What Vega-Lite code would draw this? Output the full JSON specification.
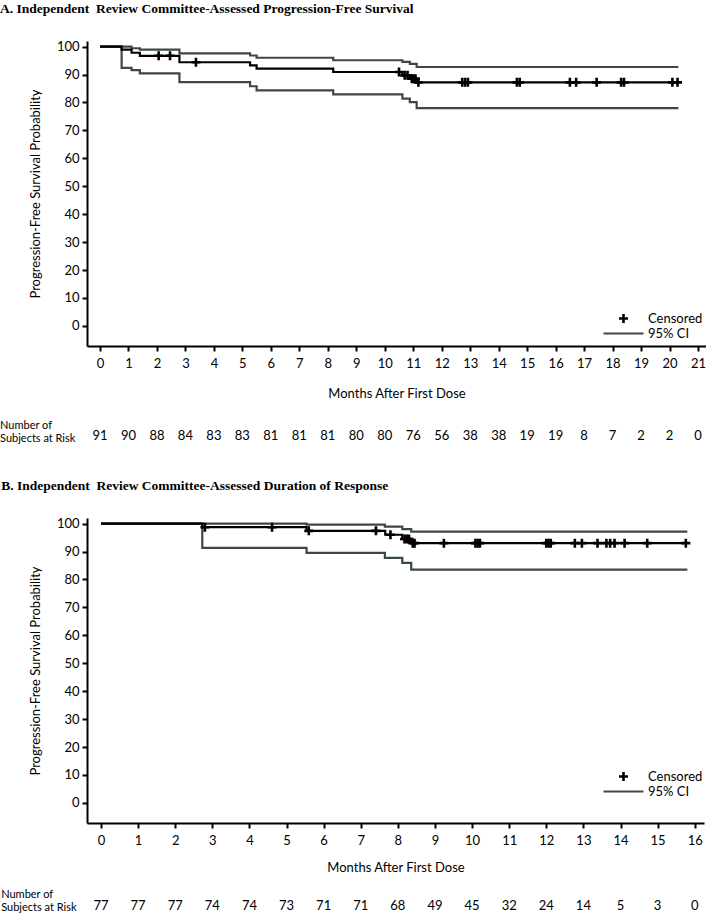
{
  "$schema": "https://vega.github.io/schema/vega-lite/v6.json",
  "padding": {"left": 0, "top": 2, "right": 0, "bottom": 0},
  "autosize": {"type": "pad"},
  "spacing": 35,
  "config": {
    "view": {"stroke": null},
    "font": "Lato",
    "axis": {
      "grid": false, "domainColor": "black", "domainWidth": 2,
      "tickColor": "black", "tickWidth": 2, "tickSize": 5,
      "labelFont": "Lato", "labelFontSize": 13, "labelColor": "black",
      "titleFont": "Lato", "titleFontSize": 13, "titleFontWeight": "normal", "titleColor": "black",
      "labelOverlap": false, "labelFlush": false
    },
    "legend": {"labelFont": "Lato", "labelFontSize": 13, "labelColor": "black", "padding": 0, "title": null},
    "title": {"font": "Liberation Serif", "fontSize": 13.5, "fontWeight": "bold", "anchor": "start", "frame": "bounds", "color": "black", "offset": 25}
  },
  "resolve": {"scale": {"color": "independent", "shape": "independent"}, "legend": {"color": "independent", "shape": "independent"}},
  "datasets": {
    "ciA": [
      {"bound": "Upper", "t": 0, "v": 100}, {"bound": "Upper", "t": 1.11, "v": 99.4}, {"bound": "Upper", "t": 1.4, "v": 98.9},
      {"bound": "Upper", "t": 2.79, "v": 97.6}, {"bound": "Upper", "t": 5.27, "v": 96.8}, {"bound": "Upper", "t": 5.5, "v": 96.0},
      {"bound": "Upper", "t": 8.19, "v": 95.1}, {"bound": "Upper", "t": 10.62, "v": 94.5}, {"bound": "Upper", "t": 10.88, "v": 93.8},
      {"bound": "Upper", "t": 11.12, "v": 92.7}, {"bound": "Upper", "t": 20.31, "v": 92.7},
      {"bound": "Lower", "t": 0, "v": 100}, {"bound": "Lower", "t": 0.76, "v": 92.4}, {"bound": "Lower", "t": 1.11, "v": 91.6},
      {"bound": "Lower", "t": 1.4, "v": 90.4}, {"bound": "Lower", "t": 2.79, "v": 87.25}, {"bound": "Lower", "t": 5.27, "v": 85.8},
      {"bound": "Lower", "t": 5.5, "v": 84.3}, {"bound": "Lower", "t": 8.19, "v": 82.9}, {"bound": "Lower", "t": 10.62, "v": 81.4},
      {"bound": "Lower", "t": 10.88, "v": 80.1}, {"bound": "Lower", "t": 11.12, "v": 78.0}, {"bound": "Lower", "t": 20.31, "v": 78.0}
    ],
    "kmA": [
      {"t": 0, "v": 100}, {"t": 0.76, "v": 98.9}, {"t": 1.11, "v": 97.8}, {"t": 1.4, "v": 96.7}, {"t": 2.79, "v": 94.4},
      {"t": 5.27, "v": 93.3}, {"t": 5.5, "v": 92.1}, {"t": 8.19, "v": 90.9}, {"t": 10.62, "v": 89.7}, {"t": 10.88, "v": 88.5},
      {"t": 11.12, "v": 87.2}, {"t": 20.3, "v": 87.2}
    ],
    "censA": [
      {"t": 2.06, "v": 96.7}, {"t": 2.46, "v": 96.7}, {"t": 3.37, "v": 94.4}, {"t": 10.5, "v": 90.9}, {"t": 10.7, "v": 89.7},
      {"t": 10.8, "v": 89.7}, {"t": 10.95, "v": 88.5}, {"t": 11.02, "v": 88.5}, {"t": 11.08, "v": 88.5}, {"t": 11.18, "v": 87.2},
      {"t": 12.72, "v": 87.2}, {"t": 12.82, "v": 87.2}, {"t": 12.92, "v": 87.2}, {"t": 14.64, "v": 87.2}, {"t": 14.74, "v": 87.2},
      {"t": 16.5, "v": 87.2}, {"t": 16.72, "v": 87.2}, {"t": 17.44, "v": 87.2}, {"t": 18.3, "v": 87.2}, {"t": 18.4, "v": 87.2},
      {"t": 20.1, "v": 87.2}, {"t": 20.28, "v": 87.2}
    ],
    "riskA": [
      {"t": 0, "n": 91}, {"t": 1, "n": 90}, {"t": 2, "n": 88}, {"t": 3, "n": 84}, {"t": 4, "n": 83}, {"t": 5, "n": 83},
      {"t": 6, "n": 81}, {"t": 7, "n": 81}, {"t": 8, "n": 81}, {"t": 9, "n": 80}, {"t": 10, "n": 80}, {"t": 11, "n": 76},
      {"t": 12, "n": 56}, {"t": 13, "n": 38}, {"t": 14, "n": 38}, {"t": 15, "n": 19}, {"t": 16, "n": 19}, {"t": 17, "n": 8},
      {"t": 18, "n": 7}, {"t": 19, "n": 2}, {"t": 20, "n": 2}, {"t": 21, "n": 0}
    ],
    "ciB": [
      {"bound": "Upper", "t": 0, "v": 100}, {"bound": "Upper", "t": 5.54, "v": 99.6}, {"bound": "Upper", "t": 7.65, "v": 98.9},
      {"bound": "Upper", "t": 8.12, "v": 98.0}, {"bound": "Upper", "t": 8.36, "v": 97.1}, {"bound": "Upper", "t": 15.8, "v": 97.1},
      {"bound": "Lower", "t": 0, "v": 100}, {"bound": "Lower", "t": 2.73, "v": 91.3}, {"bound": "Lower", "t": 5.54, "v": 89.5},
      {"bound": "Lower", "t": 7.65, "v": 87.7}, {"bound": "Lower", "t": 8.12, "v": 85.9}, {"bound": "Lower", "t": 8.36, "v": 83.5},
      {"bound": "Lower", "t": 15.8, "v": 83.5}
    ],
    "kmB": [
      {"t": 0, "v": 100}, {"t": 2.73, "v": 98.7}, {"t": 5.54, "v": 97.4}, {"t": 7.66, "v": 96.0}, {"t": 8.12, "v": 94.5},
      {"t": 8.36, "v": 93.0}, {"t": 15.76, "v": 93.0}
    ],
    "censB": [
      {"t": 2.8, "v": 98.7}, {"t": 4.61, "v": 98.7}, {"t": 5.6, "v": 97.4}, {"t": 7.41, "v": 97.4}, {"t": 7.8, "v": 96.0},
      {"t": 8.18, "v": 94.5}, {"t": 8.24, "v": 94.5}, {"t": 8.3, "v": 94.5}, {"t": 8.4, "v": 93.0}, {"t": 8.45, "v": 93.0},
      {"t": 9.24, "v": 93.0}, {"t": 10.09, "v": 93.0}, {"t": 10.15, "v": 93.0}, {"t": 10.21, "v": 93.0}, {"t": 12.0, "v": 93.0},
      {"t": 12.06, "v": 93.0}, {"t": 12.12, "v": 93.0}, {"t": 12.77, "v": 93.0}, {"t": 12.96, "v": 93.0}, {"t": 13.38, "v": 93.0},
      {"t": 13.62, "v": 93.0}, {"t": 13.72, "v": 93.0}, {"t": 13.84, "v": 93.0}, {"t": 14.11, "v": 93.0}, {"t": 14.72, "v": 93.0},
      {"t": 15.76, "v": 93.0}
    ],
    "riskB": [
      {"t": 0, "n": 77}, {"t": 1, "n": 77}, {"t": 2, "n": 77}, {"t": 3, "n": 74}, {"t": 4, "n": 74}, {"t": 5, "n": 73},
      {"t": 6, "n": 71}, {"t": 7, "n": 71}, {"t": 8, "n": 68}, {"t": 9, "n": 49}, {"t": 10, "n": 45}, {"t": 11, "n": 32},
      {"t": 12, "n": 24}, {"t": 13, "n": 14}, {"t": 14, "n": 5}, {"t": 15, "n": 3}, {"t": 16, "n": 0}
    ],
    "riskLabel": [{"label": "Number of\nSubjects at Risk"}]
  },
  "vconcat": [
    {
      "title": {"text": "A. Independent\u00a0 Review Committee-Assessed Progression-Free Survival"},
      "width": 619,
      "height": 305,
      "layer": [
        {
          "data": {"name": "ciA"},
          "mark": {"type": "line", "interpolate": "step-after", "strokeWidth": 2.2},
          "encoding": {
            "x": {"field": "t", "type": "quantitative", "title": "Months After First Dose", "scale": {"domain": [-0.456, 21.28], "nice": false, "zero": false},
                  "axis": {"values": [0,1,2,3,4,5,6,7,8,9,10,11,12,13,14,15,16,17,18,19,20,21], "labelPadding": 6, "titlePadding": 17}},
            "y": {"field": "v", "type": "quantitative", "title": "Progression-Free Survival Probability", "scale": {"domain": [-7.2, 102], "nice": false, "zero": false},
                  "axis": {"values": [0,10,20,30,40,50,60,70,80,90,100], "labelPadding": 3, "titlePadding": 14}},
            "detail": {"field": "bound", "type": "nominal"},
            "color": {"datum": "95% CI", "type": "nominal", "scale": {"range": ["#3b4845"]},
                      "legend": {"orient": "none", "legendX": 515, "legendY": 271, "symbolType": "stroke", "symbolSize": 1600, "symbolStrokeWidth": 2.2, "labelOffset": 3}}
          }
        },
        {
          "data": {"name": "kmA"},
          "mark": {"type": "line", "interpolate": "step-after", "strokeWidth": 2.2, "color": "black"},
          "encoding": {
            "x": {"field": "t", "type": "quantitative", "title": "Months After First Dose",
                  "axis": {"values": [0,1,2,3,4,5,6,7,8,9,10,11,12,13,14,15,16,17,18,19,20,21], "labelPadding": 6, "titlePadding": 17}},
            "y": {"field": "v", "type": "quantitative", "title": "Progression-Free Survival Probability",
                  "axis": {"values": [0,10,20,30,40,50,60,70,80,90,100], "labelPadding": 3, "titlePadding": 14}}
          }
        },
        {
          "data": {"name": "censA"},
          "mark": {"type": "point", "filled": false, "strokeWidth": 2.6, "size": 81, "color": "black", "opacity": 1},
          "encoding": {
            "x": {"field": "t", "type": "quantitative", "title": "Months After First Dose",
                  "axis": {"values": [0,1,2,3,4,5,6,7,8,9,10,11,12,13,14,15,16,17,18,19,20,21], "labelPadding": 6, "titlePadding": 17}},
            "y": {"field": "v", "type": "quantitative", "title": "Progression-Free Survival Probability",
                  "axis": {"values": [0,10,20,30,40,50,60,70,80,90,100], "labelPadding": 3, "titlePadding": 14}},
            "shape": {"datum": "Censored", "type": "nominal", "scale": {"range": ["M-1,0H1M0,-1V1"]},
                      "legend": {"orient": "none", "legendX": 530, "legendY": 271, "symbolSize": 81, "symbolStrokeWidth": 2.6, "symbolStrokeColor": "black", "symbolFillColor": "transparent", "labelOffset": 18}}
          }
        },
        {
          "data": {"name": "riskA"},
          "mark": {"type": "text", "font": "Lato", "fontSize": 13, "baseline": "bottom", "color": "black"},
          "encoding": {
            "x": {"field": "t", "type": "quantitative", "title": "Months After First Dose",
                  "axis": {"values": [0,1,2,3,4,5,6,7,8,9,10,11,12,13,14,15,16,17,18,19,20,21], "labelPadding": 6, "titlePadding": 17}},
            "y": {"datum": -42.1, "type": "quantitative", "title": "Progression-Free Survival Probability",
                  "axis": {"values": [0,10,20,30,40,50,60,70,80,90,100], "labelPadding": 3, "titlePadding": 14}},
            "text": {"field": "n", "type": "nominal"}
          }
        },
        {
          "data": {"name": "riskLabel"},
          "mark": {"type": "text", "font": "Lato", "fontSize": 11, "baseline": "bottom", "align": "left", "lineBreak": "\n", "lineHeight": 13, "color": "black"},
          "encoding": {
            "x": {"datum": -3.51, "type": "quantitative", "title": "Months After First Dose",
                  "axis": {"values": [0,1,2,3,4,5,6,7,8,9,10,11,12,13,14,15,16,17,18,19,20,21], "labelPadding": 6, "titlePadding": 17}},
            "y": {"datum": -37.5, "type": "quantitative", "title": "Progression-Free Survival Probability",
                  "axis": {"values": [0,10,20,30,40,50,60,70,80,90,100], "labelPadding": 3, "titlePadding": 14}},
            "text": {"field": "label", "type": "nominal"}
          }
        }
      ]
    },
    {
      "title": {"text": "B. Independent\u00a0 Review Committee-Assessed Duration of Response"},
      "width": 617,
      "height": 305,
      "layer": [
        {
          "data": {"name": "ciB"},
          "mark": {"type": "line", "interpolate": "step-after", "strokeWidth": 2.2},
          "encoding": {
            "x": {"field": "t", "type": "quantitative", "title": "Months After First Dose", "scale": {"domain": [-0.377, 16.25], "nice": false, "zero": false},
                  "axis": {"values": [0,1,2,3,4,5,6,7,8,9,10,11,12,13,14,15,16], "labelPadding": 6, "titlePadding": 14}},
            "y": {"field": "v", "type": "quantitative", "title": "Progression-Free Survival Probability", "scale": {"domain": [-7.2, 102], "nice": false, "zero": false},
                  "axis": {"values": [0,10,20,30,40,50,60,70,80,90,100], "labelPadding": 3, "titlePadding": 14}},
            "detail": {"field": "bound", "type": "nominal"},
            "color": {"datum": "95% CI", "type": "nominal", "scale": {"range": ["#3b4845"]},
                      "legend": {"orient": "none", "legendX": 515, "legendY": 252, "symbolType": "stroke", "symbolSize": 1600, "symbolStrokeWidth": 2.2, "labelOffset": 3}}
          }
        },
        {
          "data": {"name": "kmB"},
          "mark": {"type": "line", "interpolate": "step-after", "strokeWidth": 2.2, "color": "black"},
          "encoding": {
            "x": {"field": "t", "type": "quantitative", "title": "Months After First Dose",
                  "axis": {"values": [0,1,2,3,4,5,6,7,8,9,10,11,12,13,14,15,16], "labelPadding": 6, "titlePadding": 14}},
            "y": {"field": "v", "type": "quantitative", "title": "Progression-Free Survival Probability",
                  "axis": {"values": [0,10,20,30,40,50,60,70,80,90,100], "labelPadding": 3, "titlePadding": 14}}
          }
        },
        {
          "data": {"name": "censB"},
          "mark": {"type": "point", "filled": false, "strokeWidth": 2.6, "size": 81, "color": "black", "opacity": 1},
          "encoding": {
            "x": {"field": "t", "type": "quantitative", "title": "Months After First Dose",
                  "axis": {"values": [0,1,2,3,4,5,6,7,8,9,10,11,12,13,14,15,16], "labelPadding": 6, "titlePadding": 14}},
            "y": {"field": "v", "type": "quantitative", "title": "Progression-Free Survival Probability",
                  "axis": {"values": [0,10,20,30,40,50,60,70,80,90,100], "labelPadding": 3, "titlePadding": 14}},
            "shape": {"datum": "Censored", "type": "nominal", "scale": {"range": ["M-1,0H1M0,-1V1"]},
                      "legend": {"orient": "none", "legendX": 530, "legendY": 252, "symbolSize": 81, "symbolStrokeWidth": 2.6, "symbolStrokeColor": "black", "symbolFillColor": "transparent", "labelOffset": 18}}
          }
        },
        {
          "data": {"name": "riskB"},
          "mark": {"type": "text", "font": "Lato", "fontSize": 13, "baseline": "bottom", "color": "black"},
          "encoding": {
            "x": {"field": "t", "type": "quantitative", "title": "Months After First Dose",
                  "axis": {"values": [0,1,2,3,4,5,6,7,8,9,10,11,12,13,14,15,16], "labelPadding": 6, "titlePadding": 14}},
            "y": {"datum": -39.4, "type": "quantitative", "title": "Progression-Free Survival Probability",
                  "axis": {"values": [0,10,20,30,40,50,60,70,80,90,100], "labelPadding": 3, "titlePadding": 14}},
            "text": {"field": "n", "type": "nominal"}
          }
        },
        {
          "data": {"name": "riskLabel"},
          "mark": {"type": "text", "font": "Lato", "fontSize": 11, "baseline": "bottom", "align": "left", "lineBreak": "\n", "lineHeight": 13, "color": "black"},
          "encoding": {
            "x": {"datum": -2.69, "type": "quantitative", "title": "Months After First Dose",
                  "axis": {"values": [0,1,2,3,4,5,6,7,8,9,10,11,12,13,14,15,16], "labelPadding": 6, "titlePadding": 14}},
            "y": {"datum": -34.7, "type": "quantitative", "title": "Progression-Free Survival Probability",
                  "axis": {"values": [0,10,20,30,40,50,60,70,80,90,100], "labelPadding": 3, "titlePadding": 14}},
            "text": {"field": "label", "type": "nominal"}
          }
        }
      ]
    }
  ]
}
